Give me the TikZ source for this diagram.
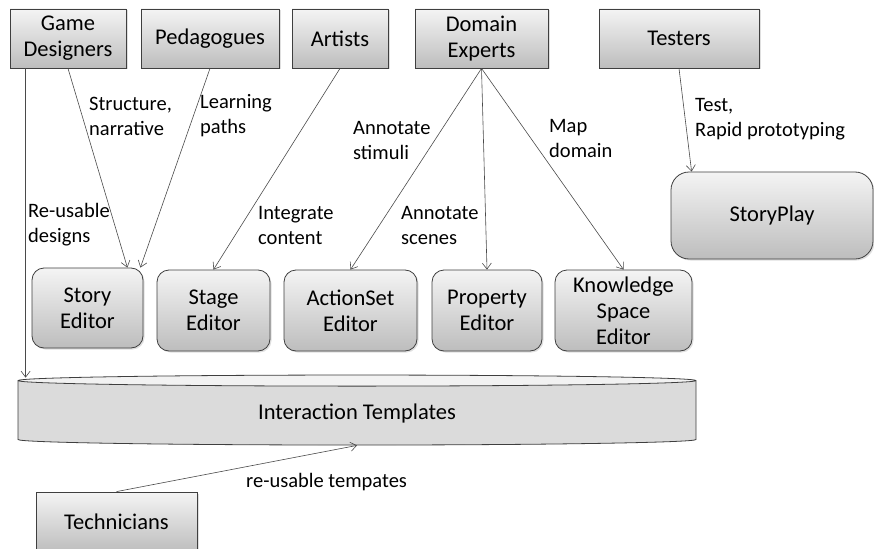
\documentclass[tikz,border=0pt]{standalone}
\usepackage{fontspec}
\setmainfont{Carlito}
\usepackage{tikz}
\usetikzlibrary{shapes.geometric}
\usetikzlibrary{shadows}
\usetikzlibrary{arrows.meta}
\definecolor{boxline}{HTML}{3F3F3F}
\definecolor{boxtop}{HTML}{F4F4F4}
\definecolor{boxbot}{HTML}{BDBDBD}
\definecolor{lineclr}{HTML}{4A4A4A}
\tikzset{
	actor/.style={draw=boxline, line width=0.8pt, top color=boxtop, bottom color=boxbot, minimum height=59pt, inner sep=0pt, align=center, font=\fontsize{22.5}{26}\selectfont, drop shadow={opacity=0.25, shadow xshift=1.5pt, shadow yshift=-1.5pt}},
	editor/.style={actor, rounded corners=12pt, minimum height=81pt},
	lbl/.style={anchor=west, align=left, inner sep=0pt, font=\fontsize{20.5}{25}\selectfont},
	flow/.style={draw=lineclr, line width=0.6pt, -{Straight Barb[length=6pt,width=9pt]}}
}

\begin{document}
\begin{tikzpicture}[x=1pt, y=-1pt]
	\useasboundingbox (0,0) rectangle (874,548);
	\node[actor, minimum width=116pt] (gd) at (68,38.5) {Game\\Designers};
	\node[actor, minimum width=138pt] (ped) at (210,38.5) {Pedagogues};
	\node[actor, minimum width=96pt] (art) at (340,38.5) {Artists};
	\node[actor, minimum width=133pt] (dom) at (481.5,38.5) {Domain\\Experts};
	\node[actor, minimum width=160pt] (test) at (679,38.5) {Testers};
	\node[editor, rounded corners=18pt, minimum width=202pt, minimum height=87pt] (splay) at (772,215.5) {StoryPlay};
	\node[editor, minimum width=111pt, minimum height=80pt] (story) at (87.5,308) {Story\\Editor};
	\node[editor, minimum width=113pt] (stage) at (213.5,310.5) {Stage\\Editor};
	\node[editor, minimum width=133pt] (aset) at (350.5,310.5) {ActionSet\\Editor};
	\node[editor, minimum width=110pt] (prop) at (487,310.5) {Property\\Editor};
	\node[editor, minimum width=137pt] (know) at (623.5,310.5) {Knowledge\\Space\\Editor};
	\node[draw=boxline, line width=0.8pt, shape=cylinder, shape border rotate=90, aspect=0.056, minimum width=678pt, minimum height=70pt, cylinder uses custom fill, cylinder body fill=gray!28, cylinder end fill=gray!10, inner sep=0pt, font=\fontsize{22.5}{26}\selectfont] (tmpl) at (357,413) {Interaction Templates};
	\node[actor, minimum width=161pt, minimum height=60pt] (tech) at (116.5,522) {Technicians};
	\draw[flow] ([xshift=16pt]gd.south west) -- ([xshift=16pt,yshift=-3pt]gd.south west |- tmpl.north);
	\draw[flow] (gd.south) -- ([xshift=-16pt]story.north east);
	\draw[flow] (ped.south) -- ([xshift=-3pt]story.north east);
	\draw[flow] (art.south) -- (stage.north);
	\draw[flow] (dom.south) -- (aset.north);
	\draw[flow] (dom.south) -- (prop.north);
	\draw[flow] (dom.south) -- (know.north);
	\draw[flow] (test.south) -- ([xshift=21pt]splay.north west);
	\draw[flow] (tech.north) -- (tmpl.south);
	\node[lbl] (lstruct) at (89,116) {Structure,\\narrative};
	\node[lbl] (llearn) at (200,116) {Learning\\paths};
	\node[lbl] (lreuse) at (28,225) {Re-usable\\designs};
	\node[lbl] (lint) at (258,225) {Integrate\\content};
	\node[lbl] (lstim) at (353,140) {Annotate\\stimuli};
	\node[lbl] (lscene) at (401,225) {Annotate\\scenes};
	\node[lbl] (lmap) at (549,138) {Map\\domain};
	\node[lbl] (ltest) at (695,119) {Test,\\Rapid prototyping};
	\node[lbl] (ltmpl) at (246,482) {re-usable tempates};
\end{tikzpicture}
\end{document}
